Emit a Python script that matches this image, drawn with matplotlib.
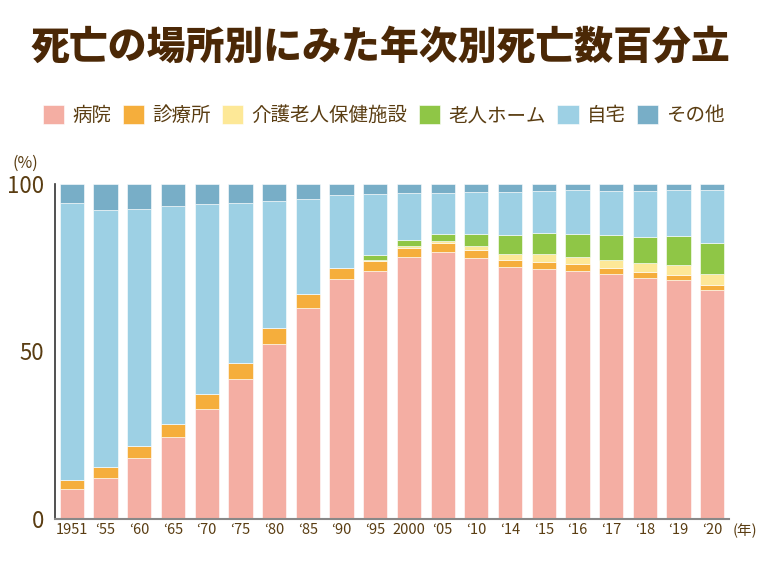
import matplotlib
matplotlib.use("Agg")
import matplotlib.pyplot as plt
import numpy as np

plt.rcParams['font.family'] = ['Noto Sans CJK JP', 'DejaVu Sans']

# 年次
years = ['1951', '\u201855', '\u201860', '\u201865', '\u201870', '\u201875', '\u201880', '\u201885',
         '\u201890', '\u201895', '2000', '\u201805', '\u201810', '\u201814', '\u201815', '\u201816',
         '\u201817', '\u201818', '\u201819', '\u201820']

# 死亡の場所別 (%)
hospital = [9.1, 12.3, 18.2, 24.6, 32.9, 41.8, 52.1, 63.0, 71.6, 74.1,
            78.2, 79.8, 77.9, 75.2, 74.6, 73.9, 73.0, 72.0, 71.3, 68.3]
clinic = [2.6, 3.1, 3.7, 3.9, 4.5, 4.9, 4.9, 4.3, 3.4, 3.0,
          2.8, 2.6, 2.4, 2.0, 2.1, 2.1, 1.8, 1.7, 1.6, 1.6]
nursing = [0, 0, 0, 0, 0, 0, 0, 0, 0, 0.2,
           0.5, 0.7, 1.3, 1.9, 2.3, 2.3, 2.5, 2.6, 3.0, 3.3]
elderly_home = [0, 0, 0, 0, 0, 0, 0, 0, 0, 1.5,
                1.9, 2.1, 3.5, 5.8, 6.3, 6.9, 7.5, 8.0, 8.6, 9.2]
home = [82.5, 76.9, 70.7, 65.0, 56.6, 47.7, 38.0, 28.3, 21.7, 18.3,
        13.9, 12.2, 12.6, 12.8, 12.7, 13.0, 13.2, 13.7, 13.6, 15.7]
other = [round(100 - a - b - c - d - e, 1) for a, b, c, d, e in
         zip(hospital, clinic, nursing, elderly_home, home)]

labels = ['病院', '診療所', '介護老人保健施設', '老人ホーム', '自宅', 'その他']
colors = ['#f4aea3', '#f5ae3c', '#fde897', '#8fc646', '#9dd0e4', '#78aec7']
series = [hospital, clinic, nursing, elderly_home, home, other]

brown = '#5a3d12'

fig = plt.figure(figsize=(7.6, 5.7), dpi=100)
ax = fig.add_axes([0.0724, 0.0895, 0.887, 0.5877])

x = np.arange(len(years))
bottom = np.zeros(len(years))
handles = []
for vals, col, lab in zip(series, colors, labels):
    vals = np.array(vals)
    b = ax.bar(x, vals, width=0.72, bottom=bottom, color=col, label=lab,
               edgecolor='#ffffff', linewidth=0.4)
    handles.append(b)
    bottom += vals

ax.set_xlim(-0.5, len(years) - 0.5)
ax.set_ylim(0, 100)
ax.set_yticks([0, 50, 100])
ax.set_yticklabels(['0', '50', '100'], fontsize=16, color=brown)
ax.set_xticks(x)
ax.set_xticklabels(years, fontsize=10.5, color=brown)
ax.tick_params(axis='both', length=0)
ax.tick_params(axis='y', pad=8)
ax.tick_params(axis='x', pad=3)

for s in ['top', 'right']:
    ax.spines[s].set_visible(False)
ax.spines['left'].set_color('#333333')
ax.spines['left'].set_linewidth(1.2)
ax.spines['bottom'].set_color('#888888')
ax.spines['bottom'].set_linewidth(1.5)

fig.text(0.033, 0.713, '(%)', fontsize=11.5, color=brown, ha='center', va='center')
fig.text(0.98, 0.068, '(年)', fontsize=10.5, color=brown, ha='center', va='center')

fig.text(0.5, 0.918, '死亡の場所別にみた年次別死亡数百分立', fontsize=28,
         fontweight='black', color='#4b2806', ha='center', va='center')

fig.legend(handles=handles, labels=labels, loc='center', bbox_to_anchor=(0.505, 0.797),
           ncol=6, frameon=False, fontsize=14, handlelength=1.1, handleheight=1.1,
           handletextpad=0.4, columnspacing=0.6, labelcolor=brown)

fig.savefig('out.png', dpi=100)
